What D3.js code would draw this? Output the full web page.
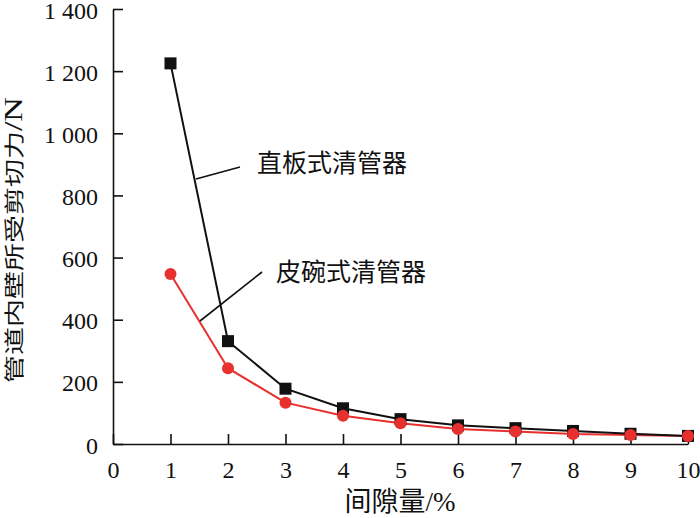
<!DOCTYPE html>
<html><head><meta charset="utf-8">
<script src="https://cdn.jsdelivr.net/npm/d3@7/dist/d3.min.js"></script>
<style>body{margin:0;background:#fff}svg{display:block}</style>
</head><body>
<svg id="c" width="700" height="518"></svg>
<script>
const gaps = [1,2,3,4,5,6,7,8,9,10];
const flatPlate = [1225,331,178,115,80,60,51,42,33,26];
const cupType = [547,244,133,91,67,48,40,32,29,26];
const xTicks = [0,1,2,3,4,5,6,7,8,9,10];
const yTicks = [0,200,400,600,800,1000,1200,1400];
const labelFlat = "直板式清管器";
const labelCup = "皮碗式清管器";
const xTitle = "间隙量";
const xUnit = "/%";
const yTitle = "管道内壁所受剪切力";
const yUnit = "/N";

const svg = d3.select("#c");
const x = d3.scaleLinear().domain([0,10]).range([113,688]);
const y = d3.scaleLinear().domain([0,1400]).range([444,9]);
const serif = "'Liberation Serif','Times New Roman',serif";
const cjk = "'Noto Sans CJK SC','Noto Sans CJK JP',sans-serif";
const fmt = d => d >= 1000 ? String(d).replace(/(\d)(\d{3})$/, "$1 $2") : String(d);

const red = "#e8302e", blk = "#111";

const gx = svg.append("g").attr("transform","translate(0,444)")
  .call(d3.axisBottom(x).tickValues(xTicks).tickSizeInner(-10).tickSizeOuter(0).tickPadding(17).tickFormat(fmt));
const gy = svg.append("g").attr("transform","translate(113,0)")
  .call(d3.axisLeft(y).tickValues(yTicks).tickSizeInner(-10).tickSizeOuter(0).tickPadding(15).tickFormat(fmt));
[gx,gy].forEach(g=>{
  g.select(".domain").attr("stroke","#111").attr("stroke-width",1.6);
  g.selectAll(".tick line").attr("stroke","#111").attr("stroke-width",1.6);
  g.selectAll(".tick text").attr("font-family",serif).attr("font-size",24).attr("fill","#111");
});
gy.selectAll(".tick text").attr("dy","0.38em");

const line = d3.line().x((d,i)=>x(gaps[i])).y(d=>y(d));
svg.append("path").datum(cupType).attr("d",line).attr("fill","none").attr("stroke",red).attr("stroke-width",2);
svg.append("path").datum(flatPlate).attr("d",line).attr("fill","none").attr("stroke",blk).attr("stroke-width",2);
svg.selectAll("rect.m").data(flatPlate).enter().append("rect").attr("class","m")
  .attr("x",(d,i)=>x(gaps[i])-6).attr("y",d=>y(d)-6).attr("width",12).attr("height",12).attr("fill",blk);
svg.selectAll("circle.m").data(cupType).enter().append("circle").attr("class","m")
  .attr("cx",(d,i)=>x(gaps[i])).attr("cy",d=>y(d)).attr("r",6).attr("fill",red);

// leader lines & labels
svg.append("line").attr("x1",196).attr("y1",179).attr("x2",240).attr("y2",167).attr("stroke","#111").attr("stroke-width",1.6);
svg.append("line").attr("x1",200).attr("y1",321).attr("x2",262).attr("y2",272).attr("stroke","#111").attr("stroke-width",1.6);
svg.append("text").attr("x",257).attr("y",172).attr("font-family",cjk).attr("font-size",25).attr("fill","#111").text(labelFlat);
svg.append("text").attr("x",276).attr("y",281).attr("font-family",cjk).attr("font-size",25).attr("fill","#111").text(labelCup);

// axis titles
const xt = svg.append("text").attr("x",400).attr("y",511).attr("text-anchor","middle").attr("font-size",27).attr("fill","#111");
xt.append("tspan").attr("font-family",cjk).text(xTitle);
xt.append("tspan").attr("font-family",serif).text(xUnit);

const yt = svg.append("text").attr("transform","translate(22,240) rotate(-90) scale(1,0.72)")
  .attr("text-anchor","middle").attr("font-size",28).attr("fill","#111");
yt.append("tspan").attr("font-family",cjk).text(yTitle);
yt.append("tspan").attr("font-family",serif).attr("font-size",34).text(yUnit);
</script>
</body></html>
